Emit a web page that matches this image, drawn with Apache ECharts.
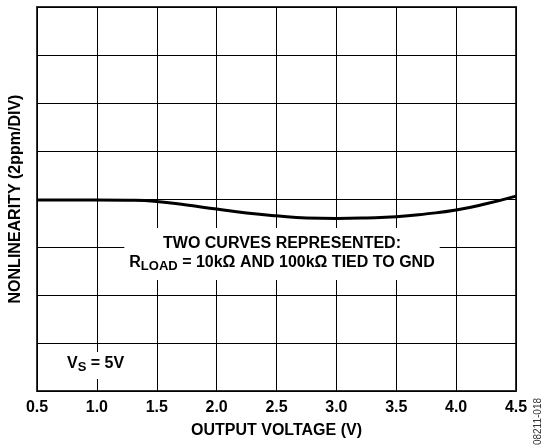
<!DOCTYPE html>
<html>
<head>
<meta charset="utf-8">
<script src="https://cdn.jsdelivr.net/npm/echarts@6/dist/echarts.min.js"></script>
<style>html,body{margin:0;padding:0;background:#fff}#c{width:548px;height:446px}</style>
</head>
<body>
<div id="c"></div>
<script>
var xValues = [0.5, 0.75, 1.0, 1.25, 1.5, 1.75, 2.0, 2.25, 2.5, 2.75, 3.0, 3.25, 3.5, 3.75, 4.0, 4.25, 4.5];
var nonlinearityPpm = [-0.04, -0.04, -0.04, -0.05, -0.10, -0.25, -0.42, -0.58, -0.70, -0.79, -0.81, -0.79, -0.74, -0.62, -0.46, -0.20, 0.12];
var xTickLabels = ['0.5','1.0','1.5','2.0','2.5','3.0','3.5','4.0','4.5'];
var xAxisTitle = 'OUTPUT VOLTAGE (V)';
var yAxisTitle = 'NONLINEARITY (2ppm/DIV)';
var noteLine1 = 'TWO CURVES REPRESENTED:';
var noteLine2 = '{n|R}{sub|LOAD}{n| = 10kΩ AND 100kΩ TIED TO GND}';
var vsNote = '{n|V}{sub|S}{n| = 5V}';
var figureId = '08211-018';

var seriesData = xValues.map(function (x, i) { return [x, nonlinearityPpm[i]]; });
var font = 'Liberation Sans, Arial, Helvetica, sans-serif';
var richStyles = {
  n: {fontFamily: font, fontWeight: 'bold', fontSize: 16, color: '#000', lineHeight: 19},
  sub: {fontFamily: font, fontWeight: 'bold', fontSize: 13, color: '#000', padding: [8, 0, 0, 0], lineHeight: 19}
};

var chart = echarts.init(document.getElementById('c'));
chart.setOption({
  animation: false,
  backgroundColor: '#fff',
  grid: {left: 36, right: 32, top: 7, bottom: 55, show: true, borderColor: '#333', borderWidth: 2, containLabel: false},
  title: [
    {
      text: '{n|' + noteLine1 + '}\n' + noteLine2,
      left: 277, top: 228, textAlign: 'center',
      backgroundColor: '#fff', padding: [6, 5, 7, 5],
      textStyle: {rich: richStyles, fontFamily: font, fontWeight: 'bold', fontSize: 16, color: '#000', lineHeight: 19, align: 'center'}
    },
    {
      text: vsNote,
      left: 62, top: 353,
      backgroundColor: '#fff', padding: [1, 5, 5, 5],
      textStyle: {rich: richStyles, fontFamily: font, fontWeight: 'bold', fontSize: 16, color: '#000'}
    }
  ],
  xAxis: {
    type: 'value', min: 0.5, max: 4.5, interval: 0.5,
    name: xAxisTitle, nameLocation: 'middle', nameGap: 32,
    nameTextStyle: {fontFamily: font, fontWeight: 'bold', fontSize: 16, color: '#000'},
    axisLine: {show: false},
    axisTick: {show: false},
    axisLabel: {
      margin: 9, fontFamily: font, fontWeight: 'bold', fontSize: 16, color: '#000',
      formatter: function (v) { var idx = Math.round((v - 0.5) / 0.5); return xTickLabels[idx] !== undefined ? xTickLabels[idx] : v.toFixed(1); }
    },
    splitLine: {show: true, lineStyle: {color: '#000', width: 1}}
  },
  yAxis: {
    type: 'value', min: -8, max: 8, interval: 2,
    name: yAxisTitle, nameLocation: 'middle', nameGap: 13, nameRotate: 90,
    nameTextStyle: {fontFamily: font, fontWeight: 'bold', fontSize: 16, color: '#000'},
    axisLine: {show: false},
    axisTick: {show: false},
    axisLabel: {show: false},
    splitLine: {show: true, lineStyle: {color: '#000', width: 1}}
  },
  series: [{
    type: 'line', data: seriesData, smooth: true, showSymbol: false, z: 1,
    lineStyle: {color: '#000', width: 3}
  }],
  graphic: [{
    type: 'text', left: 533, top: 398, rotation: Math.PI / 2,
    style: {text: figureId, fontFamily: font, fontSize: 10, fill: '#333'}
  }]
});
</script>
</body>
</html>
